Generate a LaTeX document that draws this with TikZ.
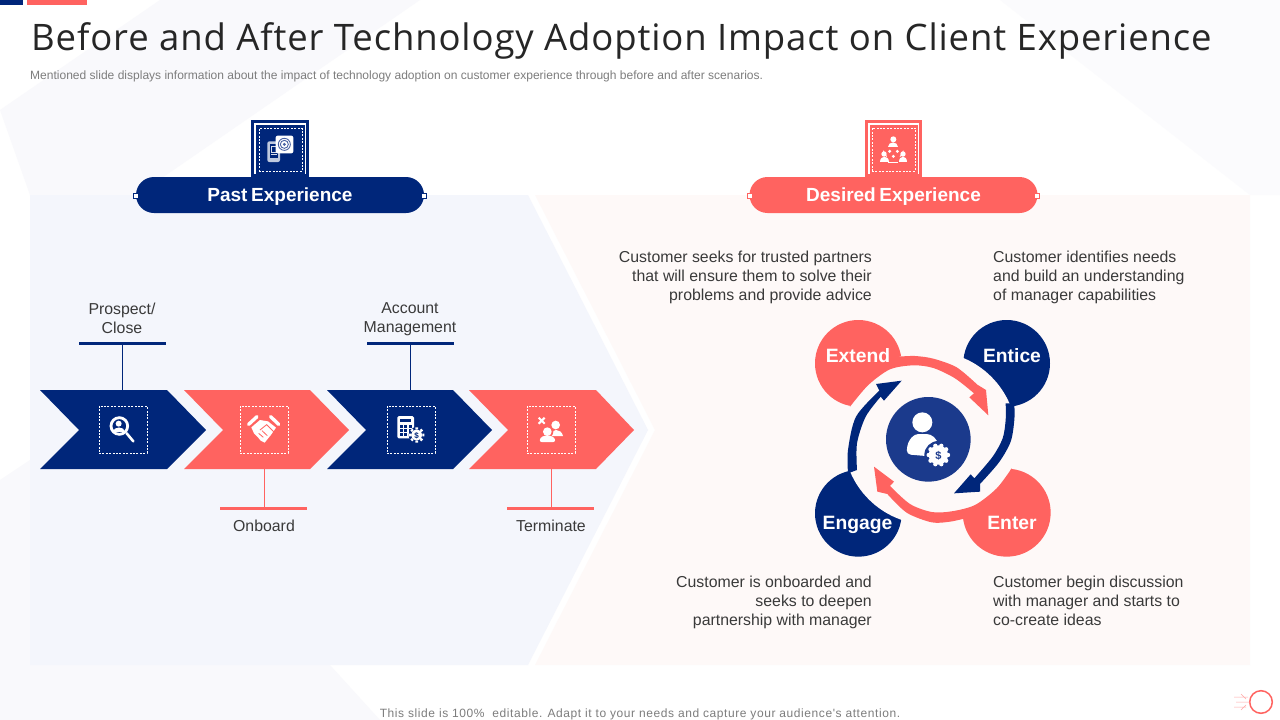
\documentclass[tikz,border=0pt]{standalone}
\usepackage{fontspec}
\setmainfont{Liberation Sans}
\newfontfamily\titlefont[LetterSpace=2.4]{Open Sans}
\newfontfamily\footfont[LetterSpace=4.8]{Liberation Sans}
\usetikzlibrary{calc}
\definecolor{navy}{HTML}{00267A}
\definecolor{coral}{HTML}{FF6360}
\definecolor{hubblue}{HTML}{1B3A8C}
\definecolor{ink}{HTML}{3A3A3A}
\definecolor{panelL}{HTML}{F4F6FC}
\definecolor{panelR}{HTML}{FEF9F8}
\definecolor{facet}{HTML}{F9F9FC}
\tikzset{
 body/.style={font=\fontsize{15.85}{19}\selectfont,text=ink,inner sep=0pt},
 head/.style={font=\fontsize{19}{24}\selectfont\bfseries,text=white,minimum width=288pt,minimum height=36pt,rounded corners=18pt,inner sep=0pt,text height=13.4pt,text depth=0pt},
 petal/.style={font=\fontsize{19.3}{24}\selectfont\bfseries,text=white,inner sep=0pt,anchor=base},
 dashbox/.style={draw=white,dash pattern=on 2pt off 1.4pt,line width=.8pt,minimum width=48pt,minimum height=47pt,inner sep=0pt},
 bar/.style={minimum width=87pt,minimum height=3pt,inner sep=0pt},
 endsq/.style={draw=#1,fill=white,line width=.5pt,minimum size=5pt,inner sep=0pt},
 zoomed/.style={x=.33333pt,y=-.33333pt},
}
\begin{document}
\begin{tikzpicture}[x=1pt,y=-1pt]
\useasboundingbox (0,0) rectangle (1280,720);
\fill[white] (0,0) rectangle (1280,720);
% faint background facets
\fill[facet] (0,110) -- (160,0) -- (420,0) -- (130,200) -- (30,195) -- cycle;
\fill[facet] (0,480) -- (30,460) -- (30,665) -- (330,665) -- (380,720) -- (0,720) -- cycle;
\fill[facet!60] (1000,0) -- (1280,0) -- (1280,195) -- (1250,195) -- cycle;
% panels
\fill[panelL] (30,195) -- (528,195) -- (648,430) -- (528,665) -- (30,665) -- cycle;
\fill[panelR] (535,195) -- (1250,195) -- (1250,665) -- (535,665) -- (655,430) -- cycle;
% top bars
\fill[navy] (0,0) rectangle (23,5);
\fill[coral] (27,0) rectangle (87,5);
% title
\node[anchor=base west,inner sep=0pt,font=\titlefont\fontsize{36.5}{40}\selectfont,text={rgb,255:red,38;green,38;blue,38}] (title) at (31,50) {Before and After Technology Adoption Impact on Client Experience};
\node[anchor=base west,inner sep=0pt,font=\fontsize{12.03}{14}\selectfont,text={rgb,255:red,125;green,125;blue,125}] (sub) at (30,79.5) {Mentioned slide displays information about the impact of technology adoption on customer experience through before and after scenarios.};
\node[anchor=base,inner sep=0pt,font=\footfont\fontsize{12}{14}\selectfont,text={rgb,255:red,125;green,125;blue,125}] (foot) at (640,717) {This slide is 100\%\ \ editable. Adapt it to your needs and capture your audience's attention.};
% headers
\node[fill=navy,head] (past) at (280,195) {\spaceskip=3.6pt Past Experience};
\node[fill=coral,head] (desired) at (893.5,195) {\spaceskip=3.6pt Desired Experience};
\node[endsq=navy] (pastL) at (136,195.5) {};
\node[endsq=navy] (pastR) at (424,195.5) {};
\node[endsq=coral] (desL) at (750,195.5) {};
\node[endsq=coral] (desR) at (1037,195.5) {};
% header icon boxes
\draw[navy,line width=2.6pt] (252.3,121.3) rectangle (307.7,175.5);
\fill[navy] (255.5,124.5) rectangle (304.5,177);
\node[dashbox,minimum width=43pt,minimum height=43pt] (iconP) at (280.5,150) {};
\draw[coral,line width=2.6pt] (866.3,121.3) rectangle (920.7,175.5);
\fill[coral] (869.5,124.5) rectangle (917.5,177);
\node[dashbox,minimum width=43pt,minimum height=43pt] (iconD) at (893.5,149.5) {};
% top icon navy
\begin{scope}[shift={(120,110)},zoomed]
 \fill[white!75!navy,rounded corners=2pt] (442,94) rectangle (480,156);
 \fill[navy] (449,103) rectangle (473,144);
 \fill[white!85!navy] (452,108) rectangle (470,128);
 \fill[navy] (455,111) rectangle (467,125);
 \fill[white!85!navy] (452,131) rectangle (470,135);
 \fill[white,rounded corners=2pt] (467,77) rectangle (520,130);
 \draw[hubblue!80,line width=.9pt] (493,103) circle[radius=18];
 \draw[hubblue!80,line width=.9pt] (493,103) circle[radius=12];
 \fill[hubblue!80] (493,103) circle[radius=5];
\end{scope}
% top icon coral
\begin{scope}[shift={(740,110)},zoomed]
 \fill[white] (460,88) circle[radius=9];
 \fill[white] (445,110) .. controls (445,93) and (475,93) .. (475,110) -- cycle;
 \fill[white] (432,132) circle[radius=8];
 \fill[white] (419,156) .. controls (419,136) and (446,136) .. (446,156) -- cycle;
 \fill[white] (489,132) circle[radius=8];
 \fill[white] (476,156) .. controls (476,136) and (502,136) .. (502,156) -- cycle;
 \foreach \p in {(449,124),(472,124),(460,139)} \fill[white] \p circle[radius=5];
 \draw[white,line width=.8pt] (430,122) arc[start angle=170,end angle=130,radius=30];
 \draw[white,line width=.8pt] (490,122) arc[start angle=10,end angle=50,radius=30];
 \draw[white,line width=.8pt] (445,158) -- (475,158);
\end{scope}
% chevrons
\fill[navy] (40,390) -- (167,390) -- (206,430) -- (167,469) -- (40,469) -- (79,430) -- cycle;
\fill[coral] (184,390) -- (310,390) -- (349,430) -- (310,469) -- (184,469) -- (223,430) -- cycle;
\fill[navy] (327,390) -- (453,390) -- (492,430) -- (453,469) -- (327,469) -- (366,430) -- cycle;
\fill[coral] (469,390) -- (596,390) -- (634,430) -- (596,469) -- (469,469) -- (508,430) -- cycle;
\coordinate (c1) at (122.5,390);
\coordinate (c2) at (264.5,469);
\coordinate (c3) at (410.5,390);
\coordinate (c4) at (551,469);
\node[dashbox] (b1) at (123,429.5) {};
\node[dashbox] (b2) at (264,429.5) {};
\node[dashbox] (b3) at (411,429.5) {};
\node[dashbox] (b4) at (551,429.5) {};
% bars and stems
\node[bar,fill=navy] (bar1) at (122.5,343.5) {};
\node[bar,fill=coral] (bar2) at (263.5,508.5) {};
\node[bar,fill=navy] (bar3) at (410.5,343.5) {};
\node[bar,fill=coral] (bar4) at (550.5,508.5) {};
\draw[navy,line width=1pt] (bar1.center) -- (c1);
\draw[coral,line width=1pt] (c2) -- (c2 |- bar2);
\draw[navy,line width=1pt] (bar3.center) -- (c3);
\draw[coral,line width=1pt] (c4) -- (c4 |- bar4);
\node[body,align=center,anchor=north] (l1) at (122,302.5) {Prospect/\\Close};
\node[body,align=center,anchor=north] (l3) at (410,302.5) {Account\\Management};
\node[body,anchor=north] (l2) at (264,519.5) {Onboard};
\node[body,anchor=north] (l4) at (551,519.5) {Terminate};
% magnifier
\begin{scope}[shift={(30,380)},zoomed]
 \draw[white,line width=2.8pt] (268,138) circle[radius=25];
 \fill[white] (266,131) circle[radius=9];
 \fill[white] (250,156) .. controls (250,138) and (284,138) .. (284,156) -- cycle;
 \draw[white,line width=2.6pt,line cap=round] (290,160) -- (310,184);
\end{scope}
% handshake
\begin{scope}[shift={(30,380)},zoomed]
 \draw[white,line width=3.4pt,line cap=round] (656,133) -- (681,110);
 \draw[white,line width=3.4pt,line cap=round] (722,110) -- (746,133);
 \fill[white] (664,142) -- (690,120) -- (714,124) -- (738,143) -- (722,166) -- (712,178) -- (704,188) -- (692,182) -- (684,172) -- (672,160) -- cycle;
 \draw[coral,line width=.8pt] (690,150) -- (710,134) -- (732,156);
 \draw[coral,line width=.8pt] (686,160) -- (700,172);
 \draw[coral,line width=.8pt] (696,152) -- (712,167);
\end{scope}
% calculator
\begin{scope}[shift={(320,380)},zoomed]
 \fill[white,rounded corners=1.5pt] (232,108) rectangle (282,175);
 \fill[navy] (240,117) rectangle (274,127);
 \foreach \x in {240,253,266}\foreach \y in {134,147,160} \fill[navy] (\x,\y) rectangle ++(9,9);
 \fill[navy] (290,165) circle[radius=24];
 \foreach \a in {0,45,...,315} \fill[white] (290,165) ++(\a:17) -- ++(\a+90:4) -- ++(\a:6) -- ++(\a-90:8) -- ++(\a+180:6) -- cycle;
 \fill[white] (290,165) circle[radius=17];
 \node[inner sep=0pt,font=\fontsize{8}{8}\selectfont\bfseries,text=navy] (calcS) at (290,166) {\$};
\end{scope}
% terminate people
\begin{scope}[shift={(320,380)},zoomed]
 \draw[white,line width=2pt] (656,113) -- (674,131) (674,113) -- (656,131);
 \fill[white] (707,135) circle[radius=13];
 \fill[white] (690,168) .. controls (692,144) and (724,144) .. (729,168) -- cycle;
 \fill[coral] (682,155) circle[radius=18];
 \fill[coral] (654,190) .. controls (654,158) and (712,158) .. (712,190) -- cycle;
 \fill[white] (682,155) circle[radius=13];
 \fill[white,rounded corners=2pt] (659,186) .. controls (661,162) and (703,162) .. (706,186) -- cycle;
\end{scope}
% petals
\begin{scope}[shift={(800,310)},zoomed]
 \fill[coral] (175,160) circle[radius=130];
 \fill[navy] (620,160) circle[radius=130];
 \fill[navy] (175,610) circle[radius=130];
 \fill[coral] (620,608) circle[radius=132];
 \fill[panelR] (390,384) circle[radius=260];
 % arrows
 \fill[coral] plot[smooth] coordinates {(295,140) (345,138) (400,146) (470,172) (532,224)} -- (558,240) -- (565,316) -- (508,262) -- (522,250)
   -- plot[smooth] coordinates {(522,250) (465,205) (400,174) (340,166) (270,178) (205,225) (150,290)} -- (120,200) -- cycle;
 \fill[coral] plot[smooth] coordinates {(500,624) (450,635) (395,637) (320,608) (262,552)} -- (232,545) -- (222,470) -- (282,515) -- (270,528)
   -- plot[smooth] coordinates {(270,528) (330,582) (395,606) (455,604) (525,585) (590,535) (635,475)} -- (650,600) -- cycle;
 \fill[navy] plot[smooth] coordinates {(643,280) (643,330) (632,395) (597,457) (540,522)} -- (540,545) -- (462,550) -- (512,493) -- (523,505)
   -- plot[smooth] coordinates {(523,505) (578,440) (608,385) (617,330) (617,280)} -- cycle;
 \fill[navy] plot[smooth] coordinates {(144,490) (144,420) (168,320) (238,242)} -- (228,222) -- (305,212) -- (252,272) -- (242,260)
   -- plot[smooth] coordinates {(242,260) (197,320) (171,400) (171,480)} -- cycle;
 % hub
 \fill[hubblue] (385,388) circle[radius=127];
 \fill[white] (367,337) circle[radius=30];
 \fill[white,rounded corners=4pt] (320,433) .. controls (322,385) and (345,372) .. (367,372) .. controls (395,372) and (412,385) .. (418,420) -- (400,440) -- cycle;
 \fill[hubblue] (415,435) circle[radius=42];
 \fill[white] (415,435) circle[radius=29];
 \foreach \a in {0,36,...,324} \fill[white] (415,435) ++(\a:29) circle[radius=6.5];
 \node[inner sep=0pt,font=\fontsize{11}{11}\selectfont\bfseries,text=hubblue] (hubS) at (415,436) {\$};
\end{scope}
\node[petal] (extend) at (858,362) {Extend};
\node[petal] (entice) at (1012,362) {Entice};
\node[petal] (engage) at (857.5,529.5) {Engage};
\node[petal] (enter) at (1012,529.5) {Enter};
% descriptions
\node[body,align=right,anchor=north east] (d1) at (872,250.5) {Customer seeks for trusted partners\\that will ensure them to solve their\\problems and provide advice};
\node[body,align=left,anchor=north west] (d2) at (993,250.5) {Customer identifies needs\\and build an understanding\\of manager capabilities};
\node[body,align=right,anchor=north east] (d3) at (872,575.5) {Customer is onboarded and\\seeks to deepen\\partnership with manager};
\node[body,align=left,anchor=north west] (d4) at (993,575.5) {Customer begin discussion\\with manager and starts to\\co-create ideas};
% corner mark
\draw[coral,line width=1.5pt] (1261,702) circle[radius=11.3];
\draw[coral!55,line width=.5pt] (1234,697) -- (1248,697) (1236,702) -- (1250,702) (1234,707) -- (1246,707) (1241,694) -- (1246,699) (1241,710) -- (1246,705);
\end{tikzpicture}
\end{document}
